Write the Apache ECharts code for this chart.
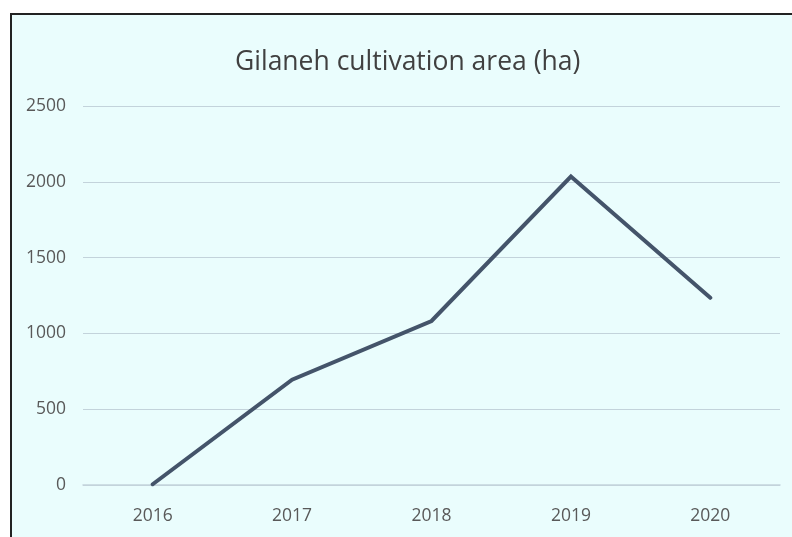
<!DOCTYPE html>
<html>
<head>
<meta charset="utf-8">
<script src="https://cdn.jsdelivr.net/npm/echarts@6/dist/echarts.min.js"></script>
<style>
html,body{margin:0;padding:0;background:#fff;width:792px;height:537px;overflow:hidden;}
#frame{position:absolute;left:10px;top:13px;width:782px;height:524px;border-left:2px solid #222;border-top:2px solid #222;background:#eafdfd;}
#chart{position:absolute;left:0;top:0;width:792px;height:537px;}
</style>
</head>
<body>
<div id="frame"></div>
<div id="chart"></div>
<script>
const titleText = "Gilaneh cultivation area (ha)";
const years = ["2016", "2017", "2018", "2019", "2020"];
const area = [5, 695, 1082, 2035, 1235];
const yTicks = { min: 0, max: 2500, interval: 500 };

const chart = echarts.init(document.getElementById('chart'), null, {renderer: 'canvas'});
chart.setOption({
  backgroundColor: 'transparent',
  animation: false,
  title: {
    text: titleText,
    left: 230,
    top: 44,
    textStyle: {fontFamily: 'Open Sans', fontWeight: 'normal', fontSize: 26.5, color: '#404040'}
  },
  grid: {left: 83, right: 12, top: 106, bottom: 52},
  xAxis: {
    type: 'category',
    data: years,
    boundaryGap: true,
    axisLine: {show: true, lineStyle: {color: '#c3d3db', width: 1.5}},
    axisTick: {show: false},
    axisLabel: {fontFamily: 'Open Sans', fontSize: 17.5, color: '#595959', margin: 22}
  },
  yAxis: {
    type: 'value',
    min: yTicks.min, max: yTicks.max, interval: yTicks.interval,
    axisLine: {show: false},
    axisTick: {show: false},
    splitLine: {lineStyle: {color: '#c3d3db', width: 1.2}},
    axisLabel: {fontFamily: 'Open Sans', fontSize: 17.5, color: '#595959', margin: 17,
      formatter: function (v) { return String(v); }}
  },
  series: [{
    type: 'line',
    data: area,
    symbol: 'none',
    lineStyle: {color: '#44546a', width: 4, cap: 'round', join: 'miter'}
  }]
});
</script>
</body>
</html>
